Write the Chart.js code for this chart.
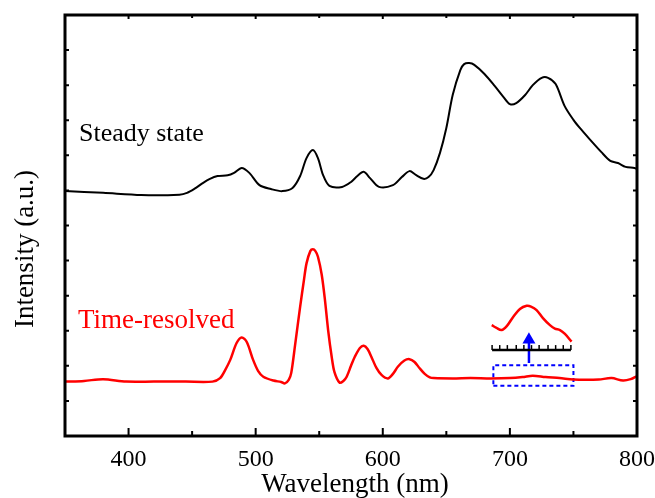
<!DOCTYPE html>
<html>
<head>
<meta charset="utf-8">
<script src="https://cdn.jsdelivr.net/npm/chart.js@4.4.0/dist/chart.umd.min.js"></script>
<style>
html,body{margin:0;padding:0;background:#fff;}
canvas{display:block;}
</style>
</head>
<body>
<canvas id="c" width="655" height="498"></canvas>
<script>
// ---- data (wavelength nm, intensity a.u.) ----
const steadyNm = [350,380,410,440,446,452,458,464,470,478,483,489,495,503,512,521,529,535,540,545,549,553,558,568,575,580,585,590,597,608,615,621,626,632,636,640,645,650,655,661,664,668,672,680,688,695,700,705,712,718,725,730,736,743,750,755,762,772,779,785,791,798,800];
const steadyVal = [6.98,6.93,6.87,6.88,6.93,7.05,7.20,7.33,7.41,7.43,7.50,7.64,7.50,7.15,7.04,6.98,7.07,7.41,7.92,8.15,7.92,7.44,7.13,7.10,7.24,7.41,7.53,7.35,7.10,7.15,7.38,7.55,7.44,7.33,7.38,7.58,8.07,8.78,9.72,10.43,10.60,10.63,10.58,10.32,9.98,9.66,9.46,9.49,9.72,10.00,10.21,10.21,10.03,9.41,9.01,8.78,8.49,8.09,7.84,7.78,7.67,7.64,7.61];

const timeNm = [350,365,380,398,420,445,466,472,476,480,485,489,493,498,502,506,514,520,523,526,528,531,535,538,540,543,545,547,549,552,554.5,557,559.8,562,566,569,571.6,575,578,582,585,588,591,595,599,604,608,612,617,621,625,629,633,637,640,655,669,685,700,710,718,728,739,750,760,770,780,789,795,800];
const timeVal = [1.55,1.57,1.62,1.55,1.55,1.55,1.55,1.65,1.88,2.17,2.65,2.81,2.68,2.17,1.85,1.69,1.58,1.54,1.50,1.60,1.80,2.59,3.69,4.45,4.92,5.27,5.32,5.27,5.11,4.59,3.88,3.02,2.26,1.82,1.52,1.57,1.69,2.00,2.26,2.51,2.57,2.48,2.26,1.94,1.74,1.64,1.77,1.98,2.15,2.19,2.11,1.93,1.77,1.67,1.65,1.64,1.65,1.64,1.65,1.68,1.72,1.68,1.65,1.61,1.60,1.61,1.65,1.58,1.62,1.71];

// magnified inset of the 687-750 nm region
const insetNm = [685.7,689.1,693.5,697.7,702.7,707.9,713.2,716.6,721,726,731.5,735.4,739.4,743.3,748.5];
const insetVal = [3.16,3.09,3.02,3.14,3.40,3.62,3.71,3.69,3.59,3.36,3.16,3.06,3.02,2.91,2.69];

const scaleBarNm = [686,692,698,705,711,717,723,730,736,742,748];
const scaleBarVal = 2.45;
const scaleTickVal = 2.52;

const boxNm = [687,750];
const boxVal = [1.43,2.02];

const arrowNm = 715;
const arrowVal = [2.08,2.74];

const xTickLabels = [400,500,600,700,800];
const xMinorTicks = [450,550,650,750];
const yTicks = [0,1,2,3,4,5,6,7,8,9,10,11,12];

const labels = {steady:'Steady state', time:'Time-resolved', xTitle:'Wavelength (nm)', yTitle:'Intensity (a.u.)'};

const pts = (xs, ys) => xs.map((x,i)=>({x:x, y:Array.isArray(ys)?ys[i]:ys}));
const SERIF = "'Liberation Serif','Times New Roman',serif";

const decor = {
  id:'decor',
  afterDraw(chart){
    const {ctx, chartArea:a, scales:{x, y}} = chart;
    ctx.save();
    ctx.strokeStyle = '#000';
    ctx.lineWidth = 2;
    ctx.beginPath();
    xTickLabels.forEach(v=>{
      const px = x.getPixelForValue(v);
      ctx.moveTo(px,a.bottom); ctx.lineTo(px,a.bottom-8);
      ctx.moveTo(px,a.top); ctx.lineTo(px,a.top+4);
    });
    xMinorTicks.forEach(v=>{
      const px = x.getPixelForValue(v);
      ctx.moveTo(px,a.bottom); ctx.lineTo(px,a.bottom-5);
      ctx.moveTo(px,a.top); ctx.lineTo(px,a.top+3);
    });
    yTicks.forEach(v=>{
      const py = y.getPixelForValue(v);
      ctx.moveTo(a.left,py); ctx.lineTo(a.left+4,py);
      ctx.moveTo(a.right,py); ctx.lineTo(a.right-4,py);
    });
    ctx.stroke();
    ctx.lineWidth = 3;
    ctx.strokeRect(a.left, a.top, a.right-a.left, a.bottom-a.top);
    ctx.font = "26px " + SERIF;
    ctx.textAlign = 'left';
    ctx.textBaseline = 'alphabetic';
    ctx.fillStyle = '#000';
    ctx.fillText(labels.steady, x.getPixelForValue(361), y.getPixelForValue(8.41));
    ctx.fillStyle = '#ff0000';
    ctx.font = "27px " + SERIF;
    ctx.fillText(labels.time, x.getPixelForValue(360.2), y.getPixelForValue(3.08));
    ctx.fillStyle = '#000';
    ctx.font = "27px " + SERIF;
    ctx.textAlign = 'center';
    ctx.fillText(labels.xTitle, (a.left+a.right)/2 + 4, 492);
    ctx.translate(33, 249);
    ctx.rotate(-Math.PI/2);
    ctx.fillText(labels.yTitle, 0, 0);
    ctx.restore();
  }
};

new Chart(document.getElementById('c'), {
  type:'scatter',
  data:{
    datasets:[
      {label:labels.steady, data:pts(steadyNm, steadyVal), showLine:true, borderColor:'#000', borderWidth:2, pointRadius:0, tension:0.3},
      {label:labels.time, data:pts(timeNm, timeVal), showLine:true, borderColor:'#ff0000', borderWidth:2.5, pointRadius:0, tension:0.3},
      {label:'inset', data:pts(insetNm, insetVal), showLine:true, borderColor:'#ff0000', borderWidth:2.5, pointRadius:0, tension:0.35},
      {label:'box', data:[{x:boxNm[0],y:boxVal[0]},{x:boxNm[1],y:boxVal[0]},{x:boxNm[1],y:boxVal[1]},{x:boxNm[0],y:boxVal[1]},{x:boxNm[0],y:boxVal[0]}], showLine:true, borderColor:'#0000ff', borderWidth:2, borderDash:[4,3], pointRadius:0, tension:0},
      {label:'scale', data:[{x:scaleBarNm[0],y:scaleBarVal},{x:scaleBarNm[scaleBarNm.length-1],y:scaleBarVal}], showLine:true, borderColor:'#000', borderWidth:2.5, pointRadius:0, tension:0},
      {label:'scaleTicks', data:pts(scaleBarNm, scaleTickVal), showLine:false, pointStyle:'line', pointRotation:90, pointRadius:2.5, pointBorderWidth:1.5, pointBorderColor:'#000'},
      {label:'arrow', data:[{x:arrowNm,y:arrowVal[0]},{x:arrowNm,y:arrowVal[1]}], showLine:true, borderColor:'#0000ff', borderWidth:2.5, pointStyle:'triangle', pointRadius:[0,5], pointBackgroundColor:'#0000ff', pointBorderColor:'#0000ff', tension:0}
    ]
  },
  options:{
    responsive:false,
    animation:false,
    devicePixelRatio:1,
    layout:{padding:{left:65, right:18, top:15, bottom:0}},
    plugins:{legend:{display:false}, tooltip:{enabled:false}},
    scales:{
      x:{
        type:'linear', min:350, max:800,
        afterBuildTicks(s){ s.ticks = xTickLabels.map(v=>({value:v})); },
        afterFit(s){ s.height = 62; s.paddingLeft = 0; s.paddingRight = 0; },
        grid:{display:false, drawTicks:false},
        border:{display:false},
        ticks:{padding:9, color:'#000', font:{family:SERIF, size:24}, maxRotation:0, autoSkip:false}
      },
      y:{
        display:false, min:0, max:12
      }
    }
  },
  plugins:[decor]
});
</script>
</body>
</html>
